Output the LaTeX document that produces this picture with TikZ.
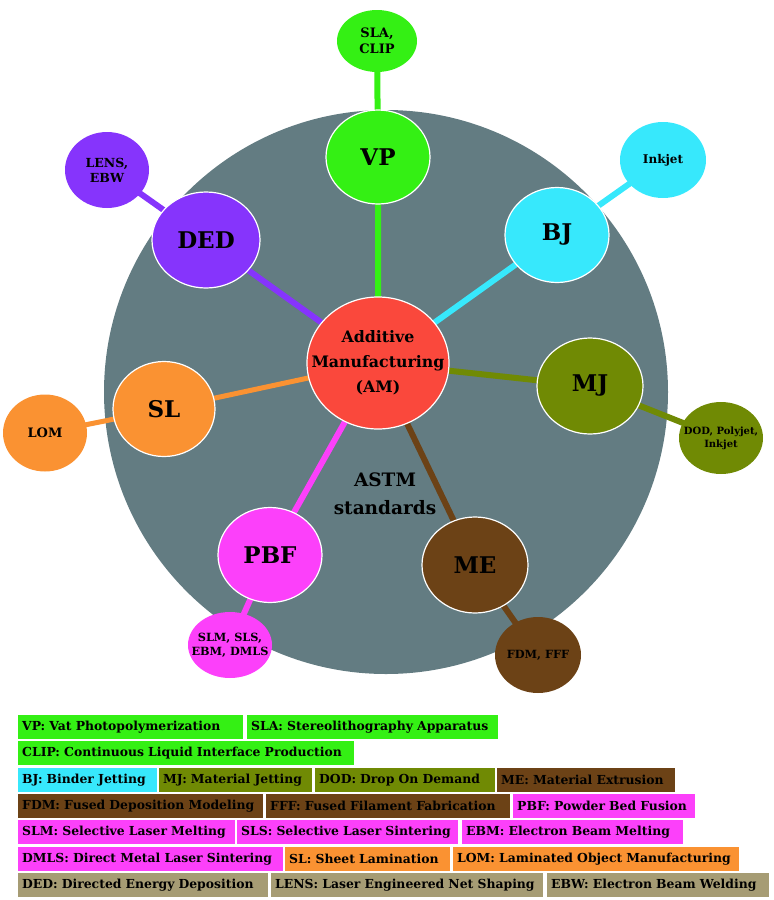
\documentclass[tikz,border=0pt]{standalone}
\usepackage{fontspec}
\setmainfont{DejaVu Serif}
\usetikzlibrary{shapes.geometric,backgrounds}
\definecolor{cgreen}{RGB}{52,240,20}
\definecolor{ccyan}{RGB}{55,232,252}
\definecolor{colive}{RGB}{112,138,4}
\definecolor{cbrown}{RGB}{108,66,22}
\definecolor{cmag}{RGB}{252,64,250}
\definecolor{corange}{RGB}{250,146,50}
\definecolor{cpurple}{RGB}{134,52,252}
\definecolor{cred}{RGB}{250,72,60}
\definecolor{cgray}{RGB}{99,124,130}
\definecolor{ctan}{RGB}{166,156,116}
\tikzset{
  main/.style={ellipse, draw=white, line width=1.2pt, inner sep=0pt},
  small/.style={ellipse, draw=none, inner sep=0pt},
  mainlbl/.style={inner sep=0pt, text=black, font=\bfseries\fontsize{23}{26}\selectfont},
  smalllbl/.style={inner sep=0pt, align=center, text=black, font=\bfseries\fontsize{12.5}{15}\selectfont},
  conn/.style={line width=6pt},
  lgd/.style={anchor=north west, inner xsep=4pt, inner ysep=0pt, minimum height=24pt, align=left,
    font=\bfseries\fontsize{12.4}{14}\selectfont, text=black},
}
\newcommand\lgd[6]{\pgfmathsetmacro\lw{#4-8}\node[lgd, fill=#5, text width=\lw pt] (#1) at (#2,#3) {\mbox{#6}};}
\begin{document}
\begin{tikzpicture}[x=1pt,y=-1pt]
\useasboundingbox (0,0) rectangle (774,900);
% main nodes
\node[main, fill=cred, minimum width=142pt, minimum height=132pt] (am) at (378,363) {};
\node[mainlbl, align=center, font=\bfseries\fontsize{15.8}{25}\selectfont] (amt) at (am) {Additive\\Manufacturing\\(AM)};
\node[main, fill=cgreen, minimum width=104pt, minimum height=94pt] (vp) at (378,157) {};
\node[mainlbl] (vpt) at (vp) {VP};
\node[main, fill=ccyan, minimum width=104pt, minimum height=95pt] (bj) at (557,235) {};
\node[mainlbl] (bjt) at (bj) {BJ};
\node[main, fill=cpurple, minimum width=108pt, minimum height=96pt] (ded) at (206,240) {};
\node[mainlbl] (dedt) at (ded) {DED};
\node[main, fill=corange, minimum width=102pt, minimum height=95pt] (sl) at (164,409) {};
\node[mainlbl] (slt) at (sl) {SL};
\node[main, fill=colive, minimum width=106pt, minimum height=96pt] (mj) at (590,386) {};
\node[mainlbl] (mjt) at (mj) {MJ};
\node[main, fill=cmag, minimum width=104pt, minimum height=95pt] (pbf) at (270,555) {};
\node[mainlbl] (pbft) at (pbf) {PBF};
\node[main, fill=cbrown, minimum width=106pt, minimum height=96pt] (me) at (475,565) {};
\node[mainlbl] (met) at (me) {ME};
% outer nodes
\node[small, fill=cgreen, minimum width=80pt, minimum height=62pt] (sla) at (377,41) {};
\node[smalllbl, font=\bfseries\fontsize{13}{16}\selectfont] (slat) at (sla) {SLA,\\CLIP};
\node[small, fill=ccyan, minimum width=86pt, minimum height=76pt] (ink) at (663,160) {};
\node[smalllbl, font=\bfseries\fontsize{12}{15}\selectfont] (inkt) at (ink) {Inkjet};
\node[small, fill=cpurple, minimum width=84pt, minimum height=76pt] (lens) at (107,170) {};
\node[smalllbl] (lenst) at (lens) {LENS,\\EBW};
\node[small, fill=corange, minimum width=84pt, minimum height=77pt] (lom) at (45,433) {};
\node[smalllbl, font=\bfseries\fontsize{13}{16}\selectfont] (lomt) at (lom) {LOM};
\node[small, fill=colive, minimum width=84pt, minimum height=72pt] (dod) at (721,438) {};
\node[smalllbl, font=\bfseries\fontsize{10}{13}\selectfont] (dodt) at (dod) {DOD, Polyjet,\\Inkjet};
\node[small, fill=cmag, minimum width=84pt, minimum height=66pt] (slm) at (230,645) {};
\node[smalllbl, font=\bfseries\fontsize{11.3}{13.5}\selectfont] (slmt) at (slm) {SLM, SLS,\\EBM, DMLS};
\node[small, fill=cbrown, minimum width=86pt, minimum height=76pt] (fdm) at (538,655) {};
\node[smalllbl, font=\bfseries\fontsize{11.3}{13.5}\selectfont] (fdmt) at (fdm) {FDM, FFF};
\node[align=center, text=black, font=\bfseries\fontsize{18.5}{28}\selectfont] (astm) at (385,494) {ASTM\\standards};
\begin{pgfonlayer}{background}
\fill[cgray] (386,392) circle[radius=282];
\draw[conn, cgreen] (am.center) -- (vp.center) -- (sla.center);
\draw[conn, ccyan] (am.center) -- (bj.center) -- (ink.center);
\draw[conn, cpurple] (am.center) -- (ded.center) -- (lens.center);
\draw[conn, corange, line width=5pt] (am.center) -- (sl.center) -- (lom.center);
\draw[conn, colive] (am.center) -- (mj.center) -- (dod.center);
\draw[conn, cmag] (am.center) -- (pbf.center) -- (slm.center);
\draw[conn, cbrown] (am.center) -- (me.center) -- (fdm.center);
\end{pgfonlayer}
% legend
\lgd{l1}{18}{715}{225}{cgreen}{VP: Vat Photopolymerization}
\lgd{l2}{247}{715}{251}{cgreen}{SLA: Stereolithography Apparatus}
\lgd{l3}{18}{741}{336}{cgreen}{CLIP: Continuous Liquid Interface Production}
\lgd{l4}{18}{768}{139}{ccyan}{BJ: Binder Jetting}
\lgd{l5}{159}{768}{153}{colive}{MJ: Material Jetting}
\lgd{l6}{315}{768}{180}{colive}{DOD: Drop On Demand}
\lgd{l7}{497}{768}{178}{cbrown}{ME: Material Extrusion}
\lgd{l8}{18}{794}{245}{cbrown}{FDM: Fused Deposition Modeling}
\lgd{l9}{266}{794}{244}{cbrown}{FFF: Fused Filament Fabrication}
\lgd{l10}{513}{794}{182}{cmag}{PBF: Powder Bed Fusion}
\lgd{l11}{18}{820}{217}{cmag}{SLM: Selective Laser Melting}
\lgd{l12}{237}{820}{221}{cmag}{SLS: Selective Laser Sintering}
\lgd{l13}{462}{820}{221}{cmag}{EBM: Electron Beam Melting}
\lgd{l14}{18}{847}{265}{cmag}{DMLS: Direct Metal Laser Sintering}
\lgd{l15}{285}{847}{165}{corange}{SL: Sheet Lamination}
\lgd{l16}{453}{847}{286}{corange}{LOM: Laminated Object Manufacturing}
\lgd{l17}{18}{873}{250}{ctan}{DED: Directed Energy Deposition}
\lgd{l18}{271}{873}{272}{ctan}{LENS: Laser Engineered Net Shaping}
\lgd{l19}{547}{873}{222}{ctan}{EBW: Electron Beam Welding}
\end{tikzpicture}
\end{document}
